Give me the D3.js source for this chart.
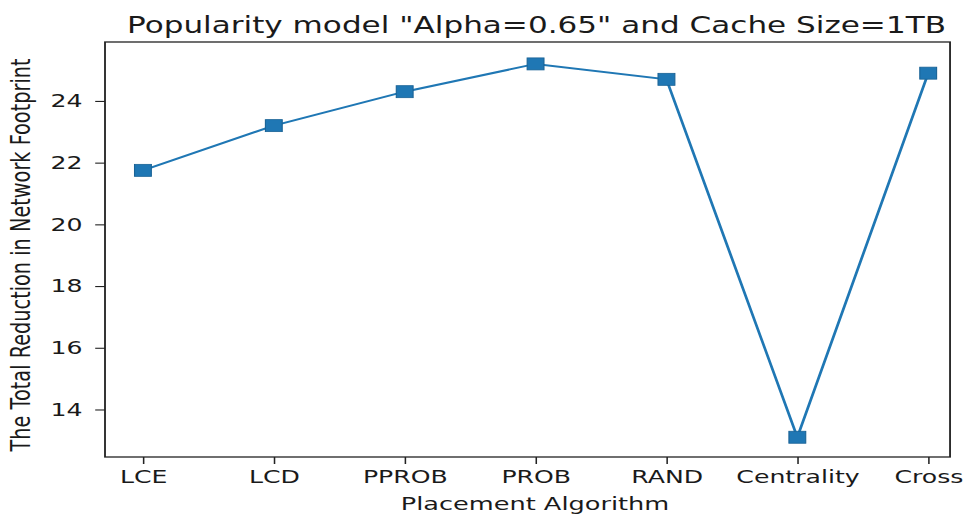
<!DOCTYPE html>
<html>
<head>
<meta charset="utf-8">
<script src="https://cdn.jsdelivr.net/npm/d3@7"></script>
<style>
  html, body { margin: 0; padding: 0; background: #fff; }
  svg { display: block; }
  text { font-family: "DejaVu Sans", sans-serif; fill: #1a1a1a; }
</style>
</head>
<body>
<script>
// ---- data ----
const categories = ["LCE", "LCD", "PPROB", "PROB", "RAND", "Centrality", "Cross"];
const values = [21.75, 23.2, 24.3, 25.2, 24.7, 13.1, 24.9];
const yTicks = [14, 16, 18, 20, 22, 24];
const titleText = "Popularity model \"Alpha=0.65\" and Cache Size=1TB";
const xLabel = "Placement Algorithm";
const yLabel = "The Total Reduction in Network Footprint";

// ---- layout (image is horizontally stretched, so draw in an inner frame scaled in x) ----
const W = 965, H = 517, SX = 1.4;
const frame = { left: 75, right: 678.6, top: 42, bottom: 457 };

const svg = d3.select("body").append("svg").attr("width", W).attr("height", H);
const g = svg.append("g").attr("transform", `scale(${SX},1)`);

const x = d3.scaleLinear().domain([0, categories.length - 1]).range([102.1, 663]);
const y = d3.scaleLinear().domain([12.46, 25.91]).range([frame.bottom, frame.top]);

const color = "#1f77b4";

// frame
g.append("rect")
  .attr("x", frame.left).attr("y", frame.top)
  .attr("width", frame.right - frame.left).attr("height", frame.bottom - frame.top)
  .attr("fill", "none").attr("stroke", "#222").attr("stroke-width", 1.3);

// y axis
const yAxis = g.append("g").attr("transform", `translate(${frame.left},0)`)
  .call(d3.axisLeft(y).tickValues(yTicks).tickSize(7).tickPadding(9).tickFormat(d3.format("d")));
yAxis.select(".domain").remove();
yAxis.selectAll("line").attr("stroke", "#222").attr("stroke-width", 1.1);
yAxis.selectAll("text").style("font-size", "18px").attr("fill", "#1a1a1a");

// x axis
const xAxis = g.append("g").attr("transform", `translate(0,${frame.bottom})`)
  .call(d3.axisBottom(x).tickValues(d3.range(categories.length)).tickSize(7).tickPadding(6)
    .tickFormat(i => categories[i]));
xAxis.select(".domain").remove();
xAxis.selectAll("line").attr("stroke", "#222").attr("stroke-width", 1.1);
xAxis.selectAll("text").style("font-size", "18px").attr("fill", "#1a1a1a");

// line
const line = d3.line().x((d, i) => x(i)).y(d => y(d));
g.append("path").datum(values)
  .attr("d", line).attr("fill", "none").attr("stroke", color).attr("stroke-width", 2);

// square markers
const ms = 12;
g.selectAll("rect.marker").data(values).enter().append("rect")
  .attr("class", "marker")
  .attr("x", (d, i) => x(i) - ms / 2).attr("y", d => y(d) - ms / 2)
  .attr("width", ms).attr("height", ms)
  .attr("fill", color).attr("stroke", "#1a6396").attr("stroke-width", 0.8);

// title
g.append("text")
  .attr("x", 536.5 / SX).attr("y", 33)
  .attr("text-anchor", "middle").style("font-size", "22.2px")
  .text(titleText);

// x label
g.append("text")
  .attr("x", 535 / SX).attr("y", 510)
  .attr("text-anchor", "middle").style("font-size", "18.3px")
  .text(xLabel);

// y label
g.append("text")
  .attr("transform", `translate(${30 / SX},${255}) rotate(-90)`)
  .attr("text-anchor", "middle").style("font-size", "19.3px")
  .text(yLabel);
</script>
</body>
</html>
